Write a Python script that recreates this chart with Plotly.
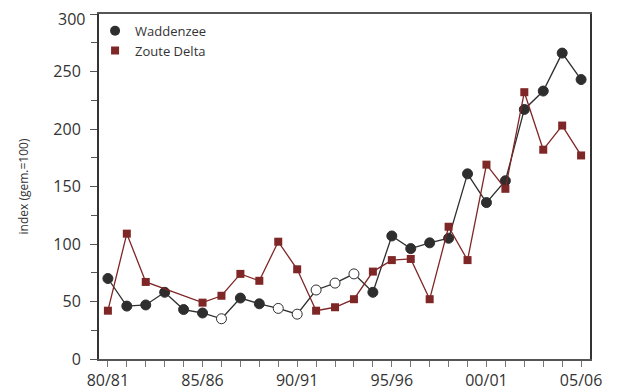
import plotly.graph_objects as go

seasons = ["80/81", "81/82", "82/83", "83/84", "84/85", "85/86", "86/87", "87/88", "88/89",
           "89/90", "90/91", "91/92", "92/93", "93/94", "94/95", "95/96", "96/97", "97/98",
           "98/99", "99/00", "00/01", "01/02", "02/03", "03/04", "04/05", "05/06"]
labelled = ["80/81", "85/86", "90/91", "95/96", "00/01", "05/06"]

waddenzee = [70, 46, 47, 58, 43, 40, 35, 53, 48, 44, 39, 60, 66, 74, 58, 107, 96, 101, 105,
             161, 136, 155, 217, 233, 266, 243]
wadden_open = ["86/87", "89/90", "90/91", "91/92", "92/93", "93/94"]
zoute_delta = [42, 109, 67, None, None, 49, 55, 74, 68, 102, 78, 42, 45, 52, 76, 86, 87, 52,
               115, 86, 169, 148, 232, 182, 203, 177]

yticks = [0, 50, 100, 150, 200, 250, 300]

x = list(range(len(seasons)))
dark = "#2e2e2e"
red = "#7f2626"
txt = "#333333"

fill = ["white" if s in wadden_open else dark for s in seasons]
w_marker = dict(symbol="circle", size=10, color=fill, line=dict(color=dark, width=1))
z_marker = dict(symbol="square", size=8, color=red, line=dict(width=0))

fig = go.Figure()
fig.add_trace(go.Scatter(
    x=x, y=waddenzee, mode="lines+markers", name="Waddenzee", showlegend=False,
    line=dict(color=dark, width=1.3), marker=w_marker,
))
fig.add_trace(go.Scatter(
    x=x, y=zoute_delta, mode="lines+markers", name="Zoute Delta", connectgaps=True,
    showlegend=False, line=dict(color=red, width=1.3), marker=z_marker,
))
# legend entries (marker only, as in the reference)
fig.add_trace(go.Scatter(x=[None], y=[None], mode="markers", name="Waddenzee",
                         marker=dict(symbol="circle", size=10, color=dark)))
fig.add_trace(go.Scatter(x=[None], y=[None], mode="markers", name="Zoute Delta",
                         marker=z_marker))

# the top y label sits at the very edge of the page: draw it as an annotation
# anchored from its top so that it is not cut off
top_tick = yticks[-1]
ytext = [str(v) if v != top_tick else "" for v in yticks]

font_family = "Open Sans, Noto Sans, sans-serif"
fig.update_layout(
    width=617, height=390,
    margin=dict(l=91, r=35, t=6, b=39, autoexpand=False),
    paper_bgcolor="white", plot_bgcolor="white",
    font=dict(family=font_family, color=txt),
    showlegend=True,
    legend=dict(x=-0.008, y=0.995, xanchor="left", yanchor="top",
                font=dict(size=13, color=txt), bgcolor="rgba(0,0,0,0)",
                tracegroupgap=0, itemwidth=30),
    xaxis=dict(
        range=[-0.47, 25.47], automargin=False, ticklabeloverflow="allow",
        tickmode="array", tickvals=x,
        ticktext=[s if s in labelled else "" for s in seasons],
        ticks="outside", ticklen=6, tickwidth=1, tickcolor="#777777",
        showline=True, linecolor="#555555", linewidth=2, mirror=True,
        showgrid=False, zeroline=False,
        tickfont=dict(size=16, color=txt),
    ),
    yaxis=dict(
        range=[0, 300], automargin=False, ticklabeloverflow="allow",
        tickmode="array", tickvals=yticks, ticktext=ytext,
        ticks="outside", ticklen=7, tickwidth=1, tickcolor="#555555",
        ticklabelstandoff=6,
        minor=dict(dtick=25, ticks="outside", ticklen=6, tickcolor="#555555", tickwidth=1),
        showline=True, linecolor="#333333", linewidth=2, mirror=True,
        showgrid=False, zeroline=False,
        tickfont=dict(size=16, color=txt),
        title=dict(text="index (gem.=100)", font=dict(size=12, color=txt), standoff=22),
    ),
    annotations=[dict(
        text=str(top_tick), xref="paper", yref="y", x=0, y=top_tick,
        xanchor="right", yanchor="top", xshift=-14, yshift=6,
        showarrow=False, borderpad=0, borderwidth=0,
        font=dict(size=16, color=txt),
    )],
)

fig.write_html("out.html")
